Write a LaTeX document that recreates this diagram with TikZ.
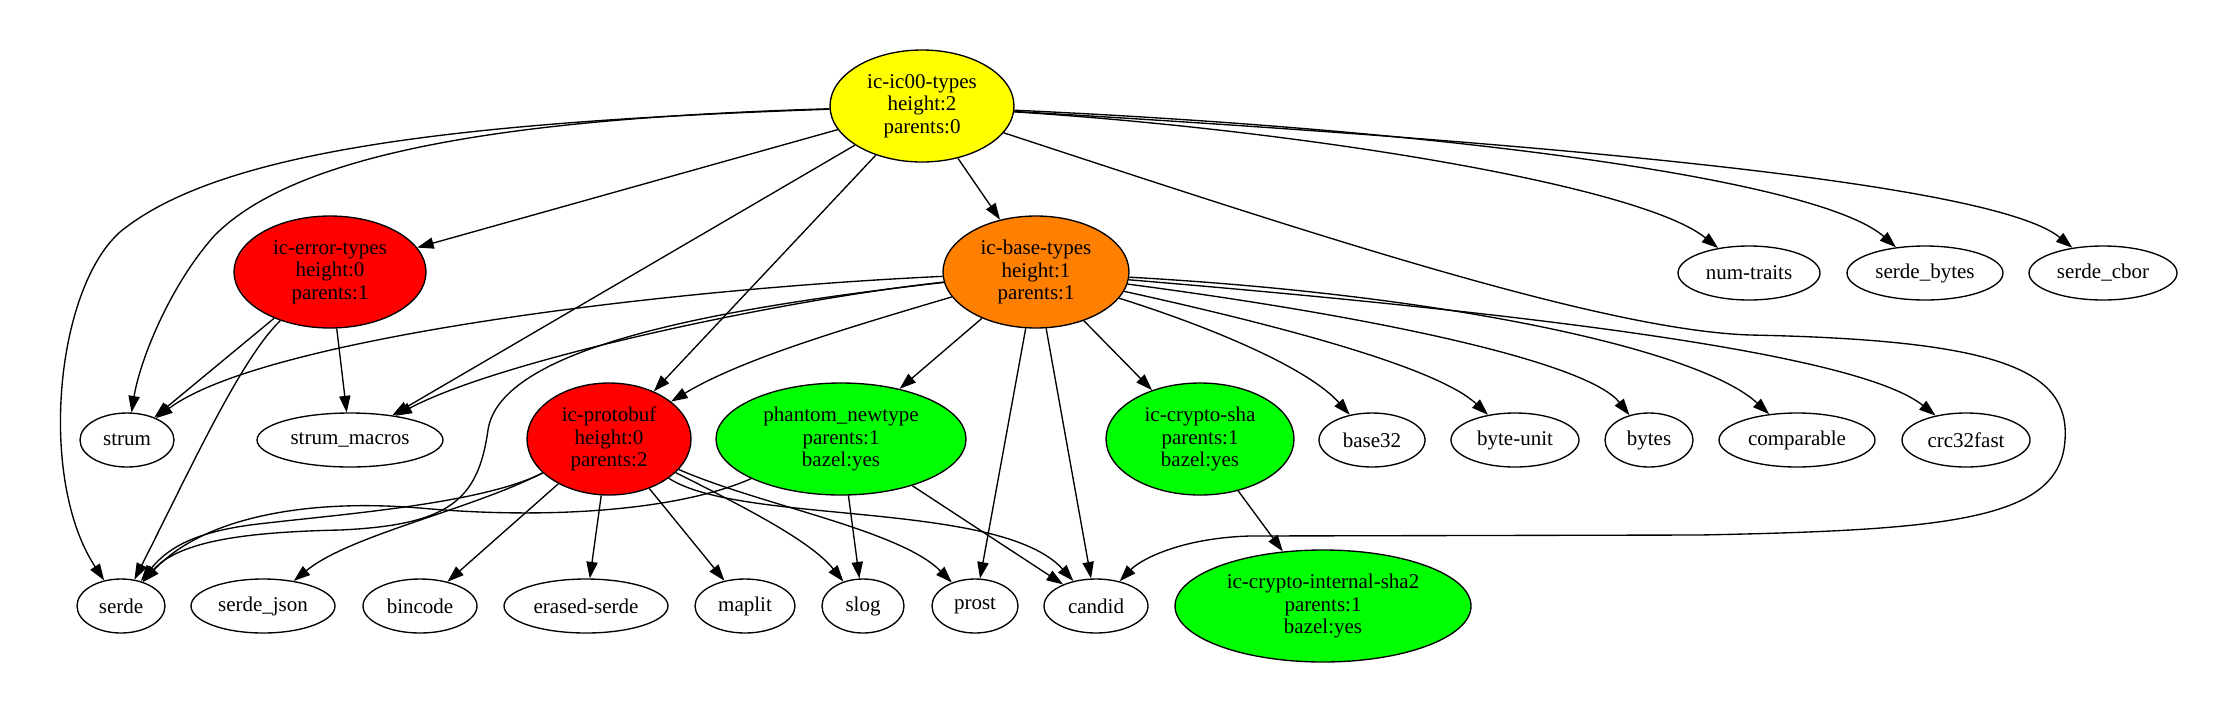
\documentclass[tikz,border=0pt]{standalone}
\usepackage{fontspec}
\setmainfont{Liberation Serif}
\usetikzlibrary{shapes.geometric,arrows.meta}
\definecolor{gvyellow}{HTML}{FFFF00}
\definecolor{gvred}{HTML}{FF0000}
\definecolor{gvorange}{HTML}{FF7F00}
\definecolor{gvgreen}{HTML}{00FF00}
\tikzset{
  nd/.style 2 args={ellipse, draw, line width=0.9pt, inner sep=0pt,
    minimum width=#1*1.3333pt, minimum height=#2*1.3333pt,
    font=\fontsize{14}{15}\selectfont, align=center},
  leaf/.style={nd={#1}{27}},
  big/.style={nd={#1}{56}},
  edge/.style={draw, line width=0.9pt, -{Triangle[length=11pt,width=7.5pt]}},
}
\begin{document}
\begin{tikzpicture}[x=0.6667pt,y=-0.6667pt]
\useasboundingbox (0,0) rectangle (2223,714);
% big nodes
\node[big=92, fill=gvyellow] (ic00) at (922,106) {ic-ic00-types\\height:2\\parents:0};
\node[big=96, fill=gvred] (err) at (330,272) {ic-error-types\\height:0\\parents:1};
\node[big=93, fill=gvorange] (base) at (1036,272) {ic-base-types\\height:1\\parents:1};
\node[big=82, fill=gvred] (proto) at (609,439) {ic-protobuf\\height:0\\parents:2};
\node[big=125, fill=gvgreen] (phan) at (841,439) {phantom\_newtype\\parents:1\\bazel:yes};
\node[big=94, fill=gvgreen] (csha) at (1200,439) {ic-crypto-sha\\parents:1\\bazel:yes};
\node[big=148, fill=gvgreen] (sha2) at (1323,606) {ic-crypto-internal-sha2\\parents:1\\bazel:yes};
% leaves
\node[leaf=71] (num) at (1749,273) {num-traits};
\node[leaf=78] (sbytes) at (1925,273) {serde\_bytes};
\node[leaf=74] (scbor) at (2103,273) {serde\_cbor};
\node[leaf=47] (strum) at (127,440) {strum};
\node[leaf=93] (smac) at (350,440) {strum\_macros};
\node[leaf=53] (b32) at (1372,440) {base32};
\node[leaf=64] (bunit) at (1515,440) {byte-unit};
\node[leaf=44] (bytes) at (1649,440) {bytes};
\node[leaf=78] (comp) at (1797,440) {comparable};
\node[leaf=64] (crc) at (1966,440) {crc32fast};
\node[leaf=44] (serde) at (121,606) {serde};
\node[leaf=72] (sjson) at (263,606) {serde\_json};
\node[leaf=57] (binc) at (420,606) {bincode};
\node[leaf=82] (erased) at (586,606) {erased-serde};
\node[leaf=50] (maplit) at (745,606) {maplit};
\node[leaf=41] (slog) at (863,606) {slog};
\node[leaf=43] (prost) at (975,606) {prost};
\node[leaf=52] (candid) at (1096,606) {candid};
% edges from ic-ic00-types
\draw[edge] (ic00) .. controls (460,122) and (220,150) .. (120,232) .. controls (55,290) and (38,480) .. (serde);
\draw[edge] (ic00) .. controls (520,118) and (300,150) .. (215,235) .. controls (170,285) and (140,360) .. (strum);
\draw[edge] (ic00) -- (err);
\draw[edge] (ic00) -- (smac);
\draw[edge] (ic00) -- (proto);
\draw[edge] (ic00) -- (base);
\draw[edge] (ic00) .. controls (1300,130) and (1640,185) .. (num);
\draw[edge] (ic00) .. controls (1450,130) and (1820,180) .. (sbytes);
\draw[edge] (ic00) .. controls (1500,140) and (1990,180) .. (scbor);
\draw[edge] (ic00) .. controls (1300,230) and (1600,330) .. (1750,335) .. controls (2000,340) and (2070,370) .. (2065,440) .. controls (2060,520) and (1950,530) .. (1700,535) -- (1250,536) .. controls (1180,538) and (1140,560) .. (candid);
% edges from ic-error-types
\draw[edge] (err) -- (strum);
\draw[edge] (err) -- (smac);
\draw[edge] (err) .. controls (240,360) and (190,470) .. (serde);
% edges from ic-base-types
\draw[edge] (base) .. controls (650,290) and (260,340) .. (strum);
\draw[edge] (base) .. controls (780,300) and (500,360) .. (smac);
\draw[edge] (base) .. controls (700,310) and (500,350) .. (488,430) .. controls (478,500) and (450,525) .. (340,530) .. controls (250,532) and (180,540) .. (serde);
\draw[edge] (base) .. controls (840,330) and (740,360) .. (proto);
\draw[edge] (base) -- (phan);
\draw[edge] (base) -- (prost);
\draw[edge] (base) -- (candid);
\draw[edge] (base) -- (csha);
\draw[edge] (base) .. controls (1220,330) and (1310,370) .. (b32);
\draw[edge] (base) .. controls (1300,330) and (1440,370) .. (bunit);
\draw[edge] (base) .. controls (1400,320) and (1590,365) .. (bytes);
\draw[edge] (base) .. controls (1450,295) and (1700,350) .. (comp);
\draw[edge] (base) .. controls (1550,315) and (1860,355) .. (crc);
% edges from ic-protobuf
\draw[edge] (proto) .. controls (480,505) and (330,515) .. (250,525) .. controls (200,532) and (170,545) .. (serde);
\draw[edge] (proto) .. controls (470,510) and (350,535) .. (sjson);
\draw[edge] (proto) -- (binc);
\draw[edge] (proto) -- (erased);
\draw[edge] (proto) -- (maplit);
\draw[edge] (proto) .. controls (740,505) and (810,540) .. (slog);
\draw[edge] (proto) .. controls (760,505) and (900,530) .. (prost);
\draw[edge] (proto) .. controls (740,525) and (1000,500) .. (candid);
% edges from phantom_newtype
\draw[edge] (phan) .. controls (680,510) and (550,520) .. (420,508) .. controls (300,498) and (200,520) .. (serde);
\draw[edge] (phan) -- (slog);
\draw[edge] (phan) -- (candid);
% ic-crypto-sha
\draw[edge] (csha) -- (sha2);
\end{tikzpicture}
\end{document}
